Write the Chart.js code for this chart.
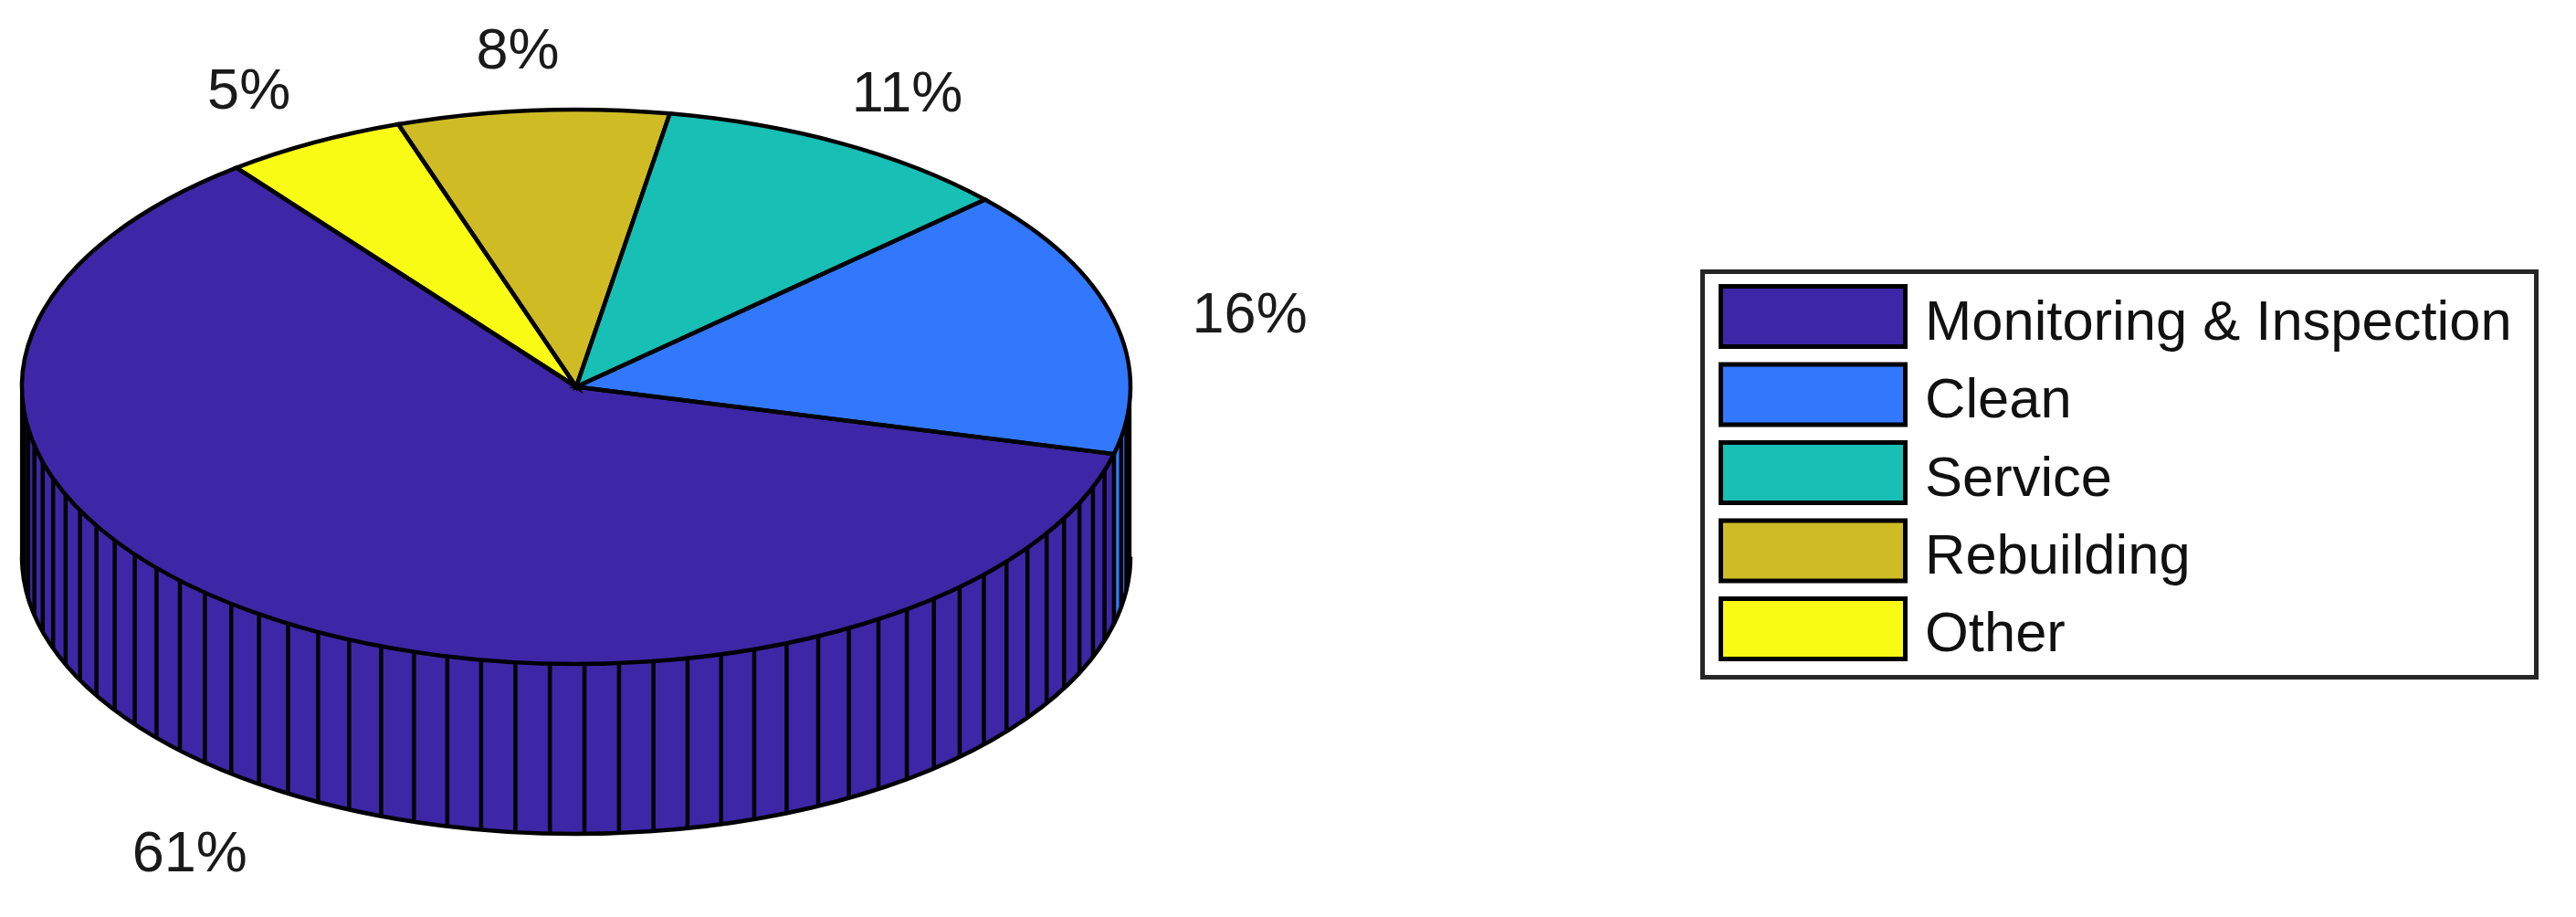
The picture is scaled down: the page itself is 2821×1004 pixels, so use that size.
<!DOCTYPE html>
<html>
<head>
<meta charset="utf-8">
<style>
html,body{margin:0;padding:0;background:#fff;overflow:hidden}
canvas{display:block}
</style>
<script src="https://cdn.jsdelivr.net/npm/chart.js@4/dist/chart.umd.js"></script>
</head>
<body>
<canvas id="c" width="2821" height="1004"></canvas>
<script>
// Data, in legend order
const categories = ['Monitoring & Inspection', 'Clean', 'Service', 'Rebuilding', 'Other'];
const shares = [60.6, 15.7, 10.5, 7.9, 5.3];
const colors = ['#3D27A6', '#3278FF', '#17BFB5', '#CFBC25', '#F9FB14'];

// Style and layout
const FONT = '"Liberation Sans", Arial, sans-serif';
const SQUASH = 0.5, WALL = 186, RADIUS = 607, LINE = 4.5;
const CENTER = {x: 631, y: 423.5};
const LEGEND_AT = {left: 1866, top: 302.7, right: 2800, bottom: 775};
const FRAME = {x: 1864.5, y: 297.5, w: 913, h: 444};
const SWATCH = {x: 1884.5, y: 313.5, w: 202, h: 66, pitch: 85.5};
const LABEL_FONT_PX = 63;
// label nudges by category, px
const labelNudges = [[-12, 14], [8, 15], [2, 9], [-5, 6], [-2, 7]];

// the slices run clockwise on the canvas, so the data go in reversed and the legend reads them back
const drawOrder = categories.map((_, i) => categories.length - 1 - i);

const pie3d = {
  id: 'pie3d',
  beforeDatasetsDraw(chart) {
    const ctx = chart.ctx, arcs = chart.getDatasetMeta(0).data;
    const total = shares.reduce((a, b) => a + b, 0);
    arcs.forEach((arc, idx) => {
      const {x, y, startAngle: s, endAngle: e, outerRadius: r} = arc.getProps(['x', 'y', 'startAngle', 'endAngle', 'outerRadius']);
      const ry = r * SQUASH;
      const TAU = Math.PI * 2;
      for (let k = -2; k <= 3; k++) {
        const lo = Math.max(s, TAU * k), hi = Math.min(e, TAU * k + Math.PI);
        if (hi <= lo) continue;
        ctx.beginPath();
        ctx.ellipse(x, y, r, ry, 0, lo, hi);
        ctx.ellipse(x, y + WALL, r, ry, 0, hi, lo, true);
        ctx.closePath();
        ctx.fillStyle = arc.options.backgroundColor;
        ctx.fill();
        ctx.beginPath();
        ctx.ellipse(x, y + WALL, r, ry, 0, lo, hi);
        ctx.strokeStyle = '#000';
        ctx.lineWidth = LINE;
        ctx.stroke();
      }
      const value = shares[drawOrder[idx]];
      const facets = Math.max(1, Math.ceil(value / total * 100));
      ctx.strokeStyle = '#000';
      ctx.lineWidth = LINE;
      for (let i = 0; i <= facets; i++) {
        const a = s + (e - s) * i / facets;
        if (Math.sin(a) < -0.001) continue;
        const px = x + r * Math.cos(a), py = y + ry * Math.sin(a);
        ctx.beginPath();
        ctx.moveTo(px, py);
        ctx.lineTo(px, py + WALL);
        ctx.stroke();
      }
    });
    // squash the library's own arcs into the top face
    ctx.save();
    ctx.translate(CENTER.x, CENTER.y);
    ctx.scale(1, SQUASH);
    ctx.translate(-CENTER.x, -CENTER.y);
  },
  afterDatasetsDraw(chart) {
    const ctx = chart.ctx, arcs = chart.getDatasetMeta(0).data;
    ctx.restore();
    // outlines built squashed, stroked unsquashed so the pen stays even
    arcs.forEach(arc => {
      const {x, y, startAngle: s, endAngle: e, outerRadius: r} = arc.getProps(['x', 'y', 'startAngle', 'endAngle', 'outerRadius']);
      ctx.beginPath();
      ctx.moveTo(x, y);
      ctx.ellipse(x, y, r, r * SQUASH, 0, s, e);
      ctx.closePath();
      ctx.strokeStyle = '#000';
      ctx.lineWidth = LINE;
      ctx.lineJoin = 'miter';
      ctx.stroke();
    });
    // percentage labels
    ctx.font = LABEL_FONT_PX + 'px ' + FONT;
    ctx.fillStyle = '#1a1a1a';
    ctx.textAlign = 'center';
    ctx.textBaseline = 'middle';
    arcs.forEach((arc, idx) => {
      const {x, y, startAngle: s, endAngle: e, outerRadius: r} = arc.getProps(['x', 'y', 'startAngle', 'endAngle', 'outerRadius']);
      const cat = drawOrder[idx], mid = (s + e) / 2;
      const sn = Math.sin(mid);
      const lx = x + 1.24 * r * Math.cos(mid) + labelNudges[cat][0];
      const ly = y + 1.23 * r * SQUASH * sn + (sn > 0 ? WALL : 0) + labelNudges[cat][1];
      ctx.fillText(Math.round(shares[cat]) + '%', lx, ly);
    });
    // legend frame and swatches
    ctx.strokeStyle = '#262626';
    ctx.lineWidth = 5;
    ctx.strokeRect(FRAME.x, FRAME.y, FRAME.w, FRAME.h);
    ctx.strokeStyle = '#000';
    colors.forEach((color, i) => {
      const top = SWATCH.y + i * SWATCH.pitch;
      ctx.fillStyle = color;
      ctx.fillRect(SWATCH.x, top, SWATCH.w, SWATCH.h);
      ctx.strokeRect(SWATCH.x, top, SWATCH.w, SWATCH.h);
    });
  },
  afterLayout(chart) {
    Object.assign(chart.legend, LEGEND_AT);
  }
};

new Chart(document.getElementById('c'), {
  type: 'pie',
  data: {
    labels: drawOrder.map(i => categories[i]),
    datasets: [{
      data: drawOrder.map(i => shares[i]),
      backgroundColor: drawOrder.map(i => colors[i]),
      borderWidth: 0
    }]
  },
  options: {
    responsive: false,
    devicePixelRatio: 1,
    animation: false,
    radius: RADIUS,
    rotation: 322.2,
    layout: {padding: {left: 0, top: 0, right: 2821 - 2 * CENTER.x, bottom: 1004 - 2 * CENTER.y}},
    plugins: {
      tooltip: {enabled: false},
      legend: {
        position: 'chartArea',
        align: 'start',
        reverse: true,
        labels: {
          boxWidth: 191.95,
          boxHeight: 66,
          padding: 19.3,
          color: '#111',
          font: {family: FONT, size: 61.5},
          generateLabels(chart) {
            // the library lays out the rows and text; the swatches sit in the plugin above
            return Chart.overrides.pie.plugins.legend.labels.generateLabels(chart)
              .map(item => Object.assign(item, {fillStyle: 'rgba(0,0,0,0)', strokeStyle: 'rgba(0,0,0,0)', lineWidth: 0}));
          }
        }
      }
    }
  },
  plugins: [pie3d]
});
</script>
</body>
</html>
